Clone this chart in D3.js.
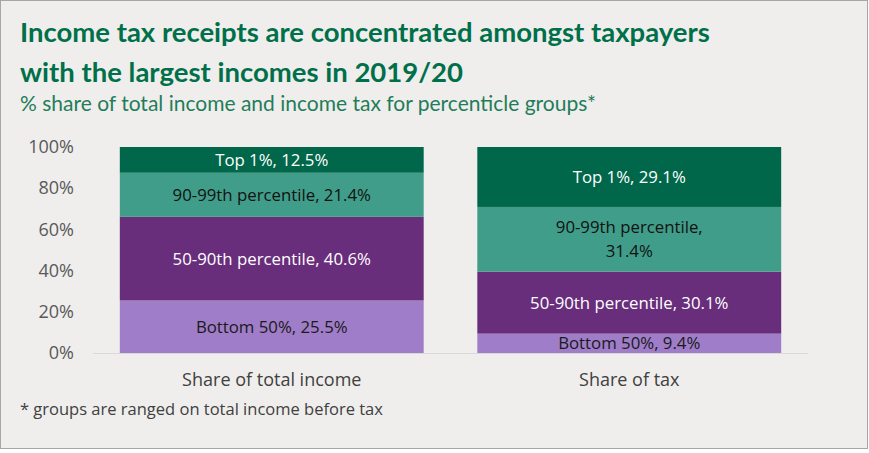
<!DOCTYPE html>
<html>
<head>
<meta charset="utf-8">
<script src="https://cdn.jsdelivr.net/npm/d3@7"></script>
<style>
  body { margin: 0; background: #fff; }
  svg { display: block; font-family: "Open Sans", sans-serif; }
</style>
</head>
<body>
<svg id="chart" width="869" height="453"></svg>
<script>
const categories = ["Share of total income", "Share of tax"];
const groups = ["Bottom 50%", "50-90th percentile", "90-99th percentile", "Top 1%"];
const incomeShares = [25.5, 40.6, 21.4, 12.5];
const taxShares = [9.4, 30.1, 31.4, 29.1];
const yTicks = [0, 20, 40, 60, 80, 100];

const colours = ["#a07dc9", "#682e7c", "#409d89", "#00674a"];
const labelColours = ["#1a1a1a", "#ffffff", "#111111", "#ffffff"];

const svg = d3.select("#chart");
const W = 869, H = 453;

svg.append("rect")
    .attr("x", 0.5).attr("y", 0.5)
    .attr("width", W - 2).attr("height", H - 5)
    .attr("fill", "#efeeec")
    .attr("stroke", "#a6a6a6");

// titles
svg.append("text")
    .attr("x", 20).attr("y", 42)
    .attr("fill", "#00704a")
    .attr("font-family", "Lato, sans-serif")
    .attr("font-weight", "bold")
    .attr("font-size", 27.5)
    .text("Income tax receipts are concentrated amongst taxpayers");
svg.append("text")
    .attr("x", 20).attr("y", 82)
    .attr("fill", "#00704a")
    .attr("font-family", "Lato, sans-serif")
    .attr("font-weight", "bold")
    .attr("font-size", 27.5)
    .text("with the largest incomes in 2019/20");
svg.append("text")
    .attr("x", 20).attr("y", 111)
    .attr("fill", "#1f7d5a")
    .attr("font-family", "Lato, sans-serif")
    .attr("font-size", 21)
    .text("% share of total income and income tax for percenticle groups*");

const x = d3.scaleBand().domain(categories).range([93, 808]).paddingInner(0.15).paddingOuter(0.075);
const y = d3.scaleLinear().domain([0, 100]).range([353, 147]);

// y axis labels
const yAxis = svg.append("g")
    .attr("transform", "translate(74,0)")
    .call(d3.axisLeft(y).tickValues(yTicks).tickFormat(d => d + "%").tickSize(0).tickPadding(0));
yAxis.select(".domain").remove();
yAxis.selectAll("text")
    .attr("font-family", "Open Sans, sans-serif")
    .attr("font-size", 18)
    .attr("fill", "#595959");

// stacks
const series = [incomeShares, taxShares];
series.forEach((vals, ci) => {
    let cum = 0;
    const g = svg.append("g");
    vals.forEach((v, gi) => {
        const y0 = cum, y1 = cum + v;
        cum = y1;
        const cx = x(categories[ci]) + x.bandwidth() / 2;
        g.append("rect")
            .attr("x", x(categories[ci]))
            .attr("y", y(Math.min(y1, 100)))
            .attr("width", x.bandwidth())
            .attr("height", y(y0) - y(Math.min(y1, 100)))
            .attr("fill", colours[gi]);
        const mid = (y(y0) + y(Math.min(y1, 100))) / 2;
        const txt = g.append("text")
            .attr("text-anchor", "middle")
            .attr("font-size", 16.8)
            .attr("fill", labelColours[gi]);
        // 90-99th label wraps on the tax bar
        if (ci === 1 && gi === 2) {
            txt.append("tspan").attr("x", cx).attr("y", mid - 6).text(groups[gi] + ",");
            txt.append("tspan").attr("x", cx).attr("y", mid + 18).text(v.toFixed(1) + "%");
        } else {
            txt.attr("x", cx).attr("y", mid + 6).text(groups[gi] + ", " + v.toFixed(1) + "%");
        }
    });
});

// baseline
svg.append("line")
    .attr("x1", 93).attr("x2", 808)
    .attr("y1", y(0) + 0.5).attr("y2", y(0) + 0.5)
    .attr("stroke", "#d9d9d9");

// category labels
const xAxis = svg.append("g")
    .attr("transform", "translate(0," + y(0) + ")")
    .call(d3.axisBottom(x).tickSize(0).tickPadding(20));
xAxis.select(".domain").remove();
xAxis.selectAll("text")
    .attr("font-family", "Open Sans, sans-serif")
    .attr("font-size", 18)
    .attr("fill", "#404040");

svg.append("text")
    .attr("x", 20).attr("y", 415)
    .attr("font-family", "Open Sans, sans-serif")
    .attr("font-size", 16.5)
    .attr("fill", "#404040")
    .text("* groups are ranged on total income before tax");
</script>
</body>
</html>
